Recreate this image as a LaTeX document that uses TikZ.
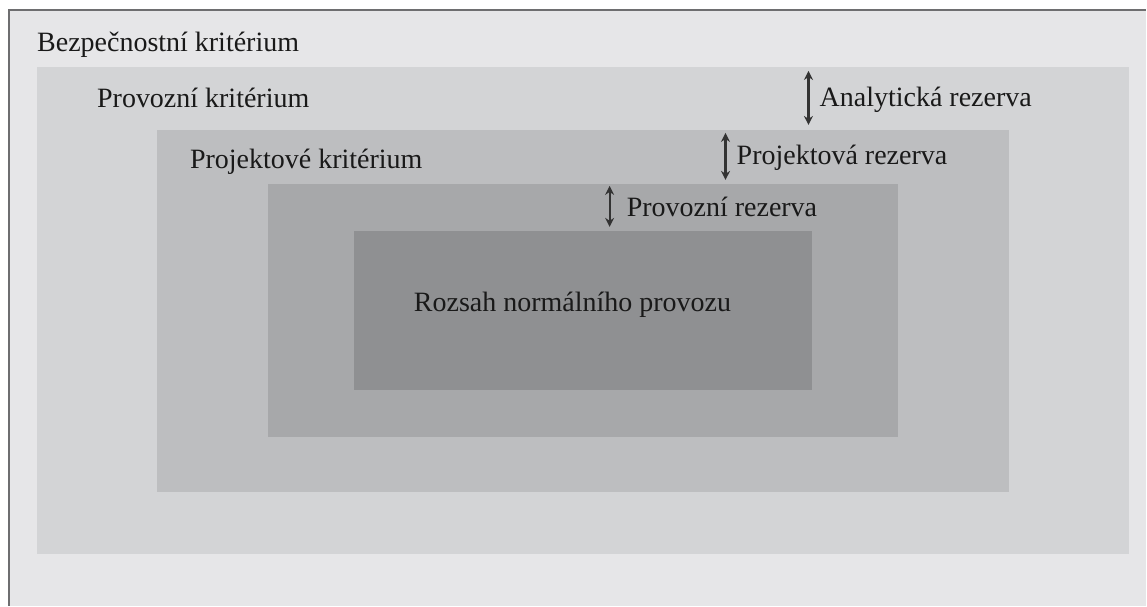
\documentclass[tikz,border=0pt]{standalone}
\usepackage{fontspec}
\setmainfont{Liberation Serif}
\usetikzlibrary{arrows.meta}

\definecolor{bezpecnost}{HTML}{E6E6E8}
\definecolor{provoz}{HTML}{D3D4D6}
\definecolor{projekt}{HTML}{BDBEC0}
\definecolor{rezerva}{HTML}{A7A8AA}
\definecolor{normal}{HTML}{8F9092}
\definecolor{ramecek}{HTML}{6E6E70}

\begin{document}
\begin{tikzpicture}[x = 1pt, y = -1pt, > = {Stealth[length = 9pt, width = 9pt]},
	every node/.style = {inner sep = 0pt, font = \fontsize{28}{31}\selectfont, text = black!90},
	label/.style = {anchor = base west},
	margin/.style = {<->, line width = 2.2pt, black!80}]

	% Page and outer region

	\fill [white] (0, 0) rectangle (1147, 606);
	\fill [bezpecnost] (9, 10) rectangle (1147, 606);
	\draw [ramecek, line width = 1.5pt] (9, 606) -- (9, 10) -- (1147, 10);

	% Nested regions

	\fill [provoz] (37, 67) rectangle (1130, 554);
	\fill [projekt] (157, 130) rectangle (1010, 492);
	\fill [rezerva] (268, 184) rectangle (899, 437);
	\fill [normal] (354, 231) rectangle (813, 390);

	% Region labels

	\node [label] (bezpecnostni) at (37, 52) {Bezpečnostní kritérium};
	\node [label] (provozni) at (97, 108) {Provozní kritérium};
	\node [label] (projektove) at (190, 169) {Projektové kritérium};
	\node [label] (normalni) at (414, 312) {Rozsah normálního provozu};

	% Margins between the regions

	\coordinate (analyticka top) at (809, 71);
	\coordinate (analyticka bottom) at (809, 125);
	\coordinate (projektova top) at (726, 133);
	\coordinate (projektova bottom) at (726, 180);
	\coordinate (provozni top) at (610, 186);
	\coordinate (provozni bottom) at (610, 227);

	\draw [margin] (analyticka top) -- (analyticka bottom);
	\draw [margin] (projektova top) -- (projektova bottom);
	\draw [margin] (provozni top) -- (provozni bottom);

	\node [label] (analyticka) at (820, 107) {Analytická rezerva};
	\node [label] (projektova) at (737, 165) {Projektová rezerva};
	\node [label] (provozni rezerva) at (627, 217) {Provozní rezerva};

\end{tikzpicture}
\end{document}
